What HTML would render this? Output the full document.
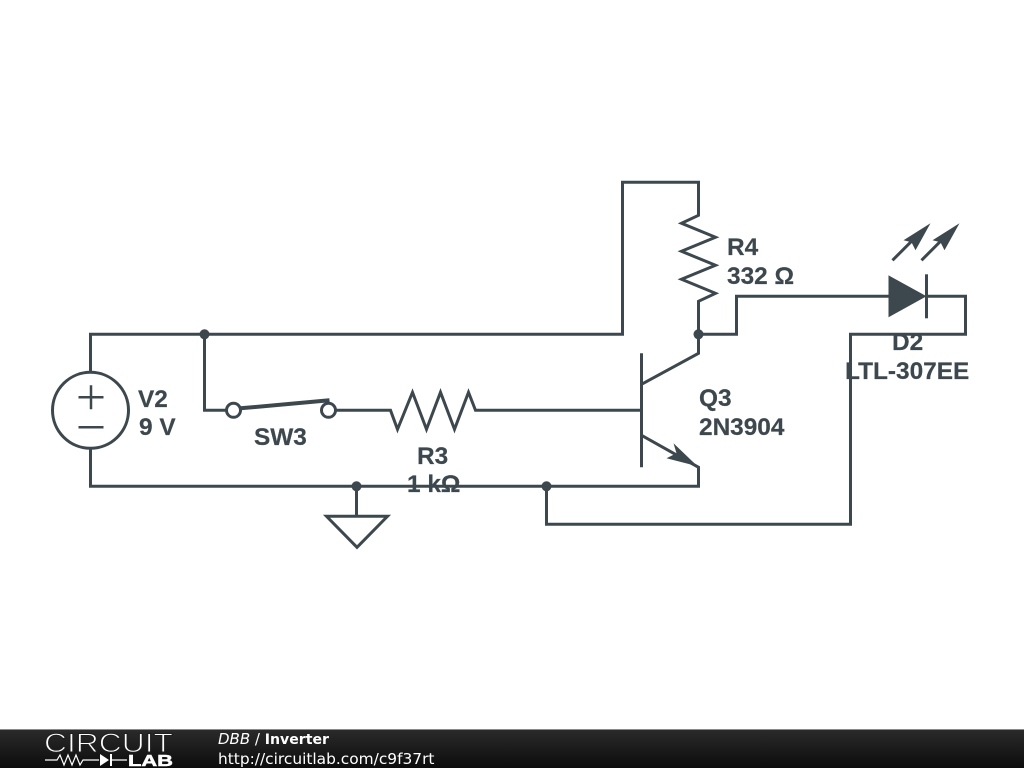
<!DOCTYPE html>
<html><head><meta charset="utf-8"><style>
html,body{margin:0;padding:0;background:#fff;width:1024px;height:768px;overflow:hidden}
svg{display:block}
.t{font-family:"Liberation Sans",sans-serif;font-weight:bold;font-size:24.4px;fill:#3d484e;stroke:#3d484e;stroke-width:.2px}
.f{font-family:"DejaVu Sans",sans-serif;fill:#fff}
</style></head><body>
<svg width="1024" height="768" viewBox="0 0 1024 768" xmlns="http://www.w3.org/2000/svg">
<defs><linearGradient id="g" x1="0" y1="0" x2="0" y2="1"><stop offset="0" stop-color="#2b2b2b"/><stop offset="1" stop-color="#0c0c0c"/></linearGradient></defs>
<g transform="translate(.5,.3)">
<g fill="none" stroke="#3d484e" stroke-width="3">
<path d="M90 372V334H622V182H698V215L681 223L715 237L681 251L715 265L681 279L715 293L698 301V334H736V296H888"/>
<path d="M926 296H965V334H850V524H546V486"/>
<path d="M90 448V486H698V467L641 435"/>
<path d="M641 384L698 353V334"/>
<path d="M641 353V467" />
<path d="M204 334V410H226"/>
<path d="M335 410H390L397 429L412 392L426 429L440 392L454 429L468 392L475 410H641"/>
<circle cx="90" cy="410" r="38"/>
<path d="M78 397H103M90.500 385V409M78 427H103" stroke-width="2.500"/>
<circle cx="233" cy="410" r="7"/><circle cx="328" cy="410" r="7"/>
<path d="M240 408L329 400" stroke-width="4"/>
<path d="M356 486V516M326 516H387L356.500 547Z"/>
<path d="M926 274V318"/>
<path d="M892 260L915 237M921 260L944 237"/>
</g>
<g fill="#3d484e">
<circle cx="204" cy="334" r="5"/><circle cx="356" cy="486" r="5"/><circle cx="546" cy="486" r="5"/><circle cx="698" cy="334" r="5"/>
<path d="M888 275L926 296L888 317Z"/>
<path d="M697 466L673 443L676 453L666 458Z"/>
<path d="M930 223L903 240L911 242L915 250Z"/>
<path d="M959 223L932 240L940 242L944 250Z"/>
</g>
</g>
<text class="t" x="138" y="407">V2</text>
<text class="t" x="139" y="435">9 V</text>
<text class="t" x="254" y="445">SW3</text>
<text class="t" x="417" y="464">R3</text>
<text class="t" x="407" y="492">1 kΩ</text>
<text class="t" x="699" y="406">Q3</text>
<text class="t" x="699" y="435">2N3904</text>
<text class="t" x="727" y="255">R4</text>
<text class="t" x="727" y="284">332 Ω</text>
<text class="t" x="892" y="350">D2</text>
<text class="t" x="845" y="379">LTL-307EE</text>
<rect x="0" y="729" width="1024" height="39" fill="url(#g)"/>
<rect x="0" y="729" width="1024" height="1" fill="#8a8a8a"/>
<text x="44" y="752" font-family="Liberation Sans,sans-serif" font-size="26.500" textLength="129" lengthAdjust="spacingAndGlyphs" fill="#fff" stroke="#202020" stroke-width="1">CIRCUIT</text>
<path d="M45 760H57L60 755L64 765L68 755L72 765L76 755L80 765L83 760H99M111 760H127" fill="none" stroke="#fff" stroke-width="1.200"/>
<path d="M100 754L109 760L100 766Z M110 754H112V766H110Z" fill="#fff"/>
<text x="128" y="766" font-family="Liberation Sans,sans-serif" font-weight="bold" font-size="15.500" textLength="45" lengthAdjust="spacingAndGlyphs" fill="#fff" stroke="#fff" stroke-width=".5">LAB</text>
<text class="f" x="218" y="744" font-size="15"><tspan font-style="italic">DBB</tspan> / <tspan font-weight="bold" font-size="14.100">Inverter</tspan></text>
<text class="f" x="218" y="764" font-size="15.400">http://circuitlab.com/c9f37rt</text>
</svg>
</body></html>
